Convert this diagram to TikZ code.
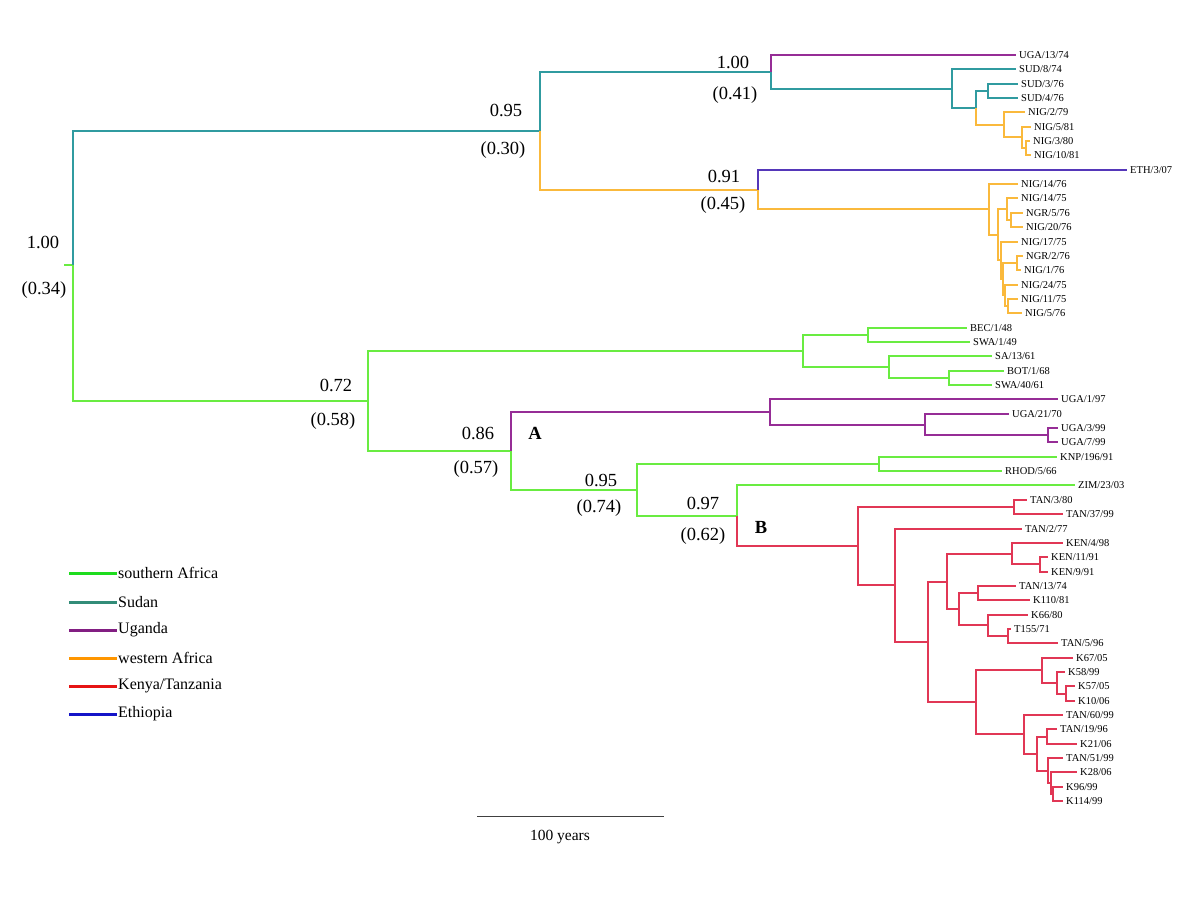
\documentclass[tikz,border=0pt]{standalone}
\usepackage{fontspec}
\setmainfont{Liberation Serif}
\definecolor{cteal}{RGB}{48,155,160}
\definecolor{cgreen}{RGB}{105,236,65}
\definecolor{cpurple}{RGB}{150,45,150}
\definecolor{corange}{RGB}{250,185,60}
\definecolor{cred}{RGB}{225,55,85}
\definecolor{cblue}{RGB}{85,55,185}
\definecolor{lgreen}{RGB}{30,220,30}
\definecolor{lteal}{RGB}{50,140,120}
\definecolor{lpurple}{RGB}{130,30,130}
\definecolor{lorange}{RGB}{255,150,0}
\definecolor{lred}{RGB}{230,20,20}
\definecolor{lblue}{RGB}{20,20,200}
\begin{document}
\begin{tikzpicture}[x=1pt,y=-1pt,
  br/.style={line width=1.5pt},
  tiplab/.style={anchor=west,inner xsep=3pt,inner ysep=0pt,font=\fontsize{10.5}{12}\selectfont},
  sup/.style={inner sep=0pt,font=\fontsize{18.5}{22}\selectfont},
  cladelab/.style={inner sep=0pt,font=\fontsize{18.5}{22}\selectfont\bfseries},
  legline/.style={line width=3pt},
  legtext/.style={anchor=west,inner xsep=1pt,font=\fontsize{16}{19}\selectfont}]
\useasboundingbox (0,0) rectangle (1200,901);

% ---------- internal nodes ----------
\coordinate (rs) at (64,265);
\coordinate (r) at (73,265);
\coordinate (u) at (540,131);
\coordinate (u1) at (771,72);
\coordinate (u11) at (952,89);
\coordinate (u111) at (976,108);
\coordinate (u1111) at (988,91);
\coordinate (u1112) at (1004,125);
\coordinate (u11121) at (1022,137);
\coordinate (u111211) at (1026,148);
\coordinate (u2) at (758,190);
\coordinate (u21) at (989,209);
\coordinate (u211) at (998,235);
\coordinate (u2111) at (1007,209);
\coordinate (u21111) at (1011,220);
\coordinate (u2112) at (1001,260);
\coordinate (u21121) at (1003,279);
\coordinate (u211211) at (1017,263);
\coordinate (u211212) at (1005,295);
\coordinate (u2112121) at (1008,306);
\coordinate (s) at (368,401);
\coordinate (s1) at (803,351);
\coordinate (s11) at (868,335);
\coordinate (s12) at (889,367);
\coordinate (s121) at (949,378);
\coordinate (a) at (511,451);
\coordinate (ug) at (770,412);
\coordinate (ug1) at (925,425);
\coordinate (ug11) at (1048,435);
\coordinate (g) at (637,490);
\coordinate (k) at (879,464);
\coordinate (b) at (737,516);
\coordinate (kt) at (858,546);
\coordinate (t1) at (1014,507);
\coordinate (t2) at (895,585);
\coordinate (t3) at (928,642);
\coordinate (t31) at (947,582);
\coordinate (t311) at (1012,554);
\coordinate (t3111) at (1040,564);
\coordinate (t312) at (959,609);
\coordinate (t3121) at (978,593);
\coordinate (t3122) at (988,625);
\coordinate (t31221) at (1008,636);
\coordinate (t32) at (976,702);
\coordinate (t321) at (1042,670);
\coordinate (t3211) at (1057,683);
\coordinate (t32111) at (1066,694);
\coordinate (t322) at (1024,734);
\coordinate (t3221) at (1037,754);
\coordinate (t32211) at (1047,737);
\coordinate (t32212) at (1048,771);
\coordinate (t322121) at (1051,783);
\coordinate (t3221211) at (1053,794);

% ---------- tips ----------
\node[tiplab] (UGAa) at (1016,55) {UGA/13/74};
\node[tiplab] (SUDa) at (1016,69) {SUD/8/74};
\node[tiplab] (SUDb) at (1018,84) {SUD/3/76};
\node[tiplab] (SUDc) at (1018,98) {SUD/4/76};
\node[tiplab] (NIGa) at (1025,112) {NIG/2/79};
\node[tiplab] (NIGb) at (1031,127) {NIG/5/81};
\node[tiplab] (NIGc) at (1030,141) {NIG/3/80};
\node[tiplab] (NIGd) at (1031,155) {NIG/10/81};
\node[tiplab] (ETH) at (1127,170) {ETH/3/07};
\node[tiplab] (NIGe) at (1018,184) {NIG/14/76};
\node[tiplab] (NIGf) at (1018,198) {NIG/14/75};
\node[tiplab] (NGRa) at (1023,213) {NGR/5/76};
\node[tiplab] (NIGg) at (1023,227) {NIG/20/76};
\node[tiplab] (NIGh) at (1018,242) {NIG/17/75};
\node[tiplab] (NGRb) at (1023,256) {NGR/2/76};
\node[tiplab] (NIGi) at (1021,270) {NIG/1/76};
\node[tiplab] (NIGj) at (1018,285) {NIG/24/75};
\node[tiplab] (NIGk) at (1018,299) {NIG/11/75};
\node[tiplab] (NIGl) at (1022,313) {NIG/5/76};
\node[tiplab] (BEC) at (967,328) {BEC/1/48};
\node[tiplab] (SWAa) at (970,342) {SWA/1/49};
\node[tiplab] (SA) at (992,356) {SA/13/61};
\node[tiplab] (BOT) at (1004,371) {BOT/1/68};
\node[tiplab] (SWAb) at (992,385) {SWA/40/61};
\node[tiplab] (UGAb) at (1058,399) {UGA/1/97};
\node[tiplab] (UGAc) at (1009,414) {UGA/21/70};
\node[tiplab] (UGAd) at (1058,428) {UGA/3/99};
\node[tiplab] (UGAe) at (1058,442) {UGA/7/99};
\node[tiplab] (KNP) at (1057,457) {KNP/196/91};
\node[tiplab] (RHOD) at (1002,471) {RHOD/5/66};
\node[tiplab] (ZIM) at (1075,485) {ZIM/23/03};
\node[tiplab] (TANa) at (1027,500) {TAN/3/80};
\node[tiplab] (TANb) at (1063,514) {TAN/37/99};
\node[tiplab] (TANc) at (1022,529) {TAN/2/77};
\node[tiplab] (KENa) at (1063,543) {KEN/4/98};
\node[tiplab] (KENb) at (1048,557) {KEN/11/91};
\node[tiplab] (KENc) at (1048,572) {KEN/9/91};
\node[tiplab] (TANd) at (1016,586) {TAN/13/74};
\node[tiplab] (Ka) at (1030,600) {K110/81};
\node[tiplab] (Kb) at (1028,615) {K66/80};
\node[tiplab] (Ta) at (1011,629) {T155/71};
\node[tiplab] (TANe) at (1058,643) {TAN/5/96};
\node[tiplab] (Kc) at (1073,658) {K67/05};
\node[tiplab] (Kd) at (1065,672) {K58/99};
\node[tiplab] (Ke) at (1075,686) {K57/05};
\node[tiplab] (Kf) at (1075,701) {K10/06};
\node[tiplab] (TANf) at (1063,715) {TAN/60/99};
\node[tiplab] (TANg) at (1057,729) {TAN/19/96};
\node[tiplab] (Kg) at (1077,744) {K21/06};
\node[tiplab] (TANh) at (1063,758) {TAN/51/99};
\node[tiplab] (Kh) at (1077,772) {K28/06};
\node[tiplab] (Ki) at (1063,787) {K96/99};
\node[tiplab] (Kj) at (1063,801) {K114/99};

% ---------- branches ----------
\draw[br,cgreen] (rs) -- (r);
\draw[br,cteal] (r) |- (u);
\draw[br,cteal] (u) |- (u1);
\draw[br,cpurple] (u1) |- (UGAa.west);
\draw[br,cteal] (u1) |- (u11);
\draw[br,cteal] (u11) |- (SUDa.west);
\draw[br,cteal] (u11) |- (u111);
\draw[br,cteal] (u111) |- (u1111);
\draw[br,cteal] (u1111) |- (SUDb.west);
\draw[br,cteal] (u1111) |- (SUDc.west);
\draw[br,corange] (u111) |- (u1112);
\draw[br,corange] (u1112) |- (NIGa.west);
\draw[br,corange] (u1112) |- (u11121);
\draw[br,corange] (u11121) |- (NIGb.west);
\draw[br,corange] (u11121) |- (u111211);
\draw[br,corange] (u111211) |- (NIGc.west);
\draw[br,corange] (u111211) |- (NIGd.west);
\draw[br,corange] (u) |- (u2);
\draw[br,cblue] (u2) |- (ETH.west);
\draw[br,corange] (u2) |- (u21);
\draw[br,corange] (u21) |- (NIGe.west);
\draw[br,corange] (u21) |- (u211);
\draw[br,corange] (u211) |- (u2111);
\draw[br,corange] (u2111) |- (NIGf.west);
\draw[br,corange] (u2111) |- (u21111);
\draw[br,corange] (u21111) |- (NGRa.west);
\draw[br,corange] (u21111) |- (NIGg.west);
\draw[br,corange] (u211) |- (u2112);
\draw[br,corange] (u2112) |- (NIGh.west);
\draw[br,corange] (u2112) |- (u21121);
\draw[br,corange] (u21121) |- (u211211);
\draw[br,corange] (u211211) |- (NGRb.west);
\draw[br,corange] (u211211) |- (NIGi.west);
\draw[br,corange] (u21121) |- (u211212);
\draw[br,corange] (u211212) |- (NIGj.west);
\draw[br,corange] (u211212) |- (u2112121);
\draw[br,corange] (u2112121) |- (NIGk.west);
\draw[br,corange] (u2112121) |- (NIGl.west);

\draw[br,cgreen] (r) |- (s);
\draw[br,cgreen] (s) |- (s1);
\draw[br,cgreen] (s1) |- (s11);
\draw[br,cgreen] (s11) |- (BEC.west);
\draw[br,cgreen] (s11) |- (SWAa.west);
\draw[br,cgreen] (s1) |- (s12);
\draw[br,cgreen] (s12) |- (SA.west);
\draw[br,cgreen] (s12) |- (s121);
\draw[br,cgreen] (s121) |- (BOT.west);
\draw[br,cgreen] (s121) |- (SWAb.west);
\draw[br,cgreen] (s) |- (a);
\draw[br,cpurple] (a) |- (ug);
\draw[br,cpurple] (ug) |- (UGAb.west);
\draw[br,cpurple] (ug) |- (ug1);
\draw[br,cpurple] (ug1) |- (UGAc.west);
\draw[br,cpurple] (ug1) |- (ug11);
\draw[br,cpurple] (ug11) |- (UGAd.west);
\draw[br,cpurple] (ug11) |- (UGAe.west);
\draw[br,cgreen] (a) |- (g);
\draw[br,cgreen] (g) |- (k);
\draw[br,cgreen] (k) |- (KNP.west);
\draw[br,cgreen] (k) |- (RHOD.west);
\draw[br,cgreen] (g) |- (b);
\draw[br,cgreen] (b) |- (ZIM.west);
\draw[br,cred] (b) |- (kt);
\draw[br,cred] (kt) |- (t1);
\draw[br,cred] (t1) |- (TANa.west);
\draw[br,cred] (t1) |- (TANb.west);
\draw[br,cred] (kt) |- (t2);
\draw[br,cred] (t2) |- (TANc.west);
\draw[br,cred] (t2) |- (t3);
\draw[br,cred] (t3) |- (t31);
\draw[br,cred] (t31) |- (t311);
\draw[br,cred] (t311) |- (KENa.west);
\draw[br,cred] (t311) |- (t3111);
\draw[br,cred] (t3111) |- (KENb.west);
\draw[br,cred] (t3111) |- (KENc.west);
\draw[br,cred] (t31) |- (t312);
\draw[br,cred] (t312) |- (t3121);
\draw[br,cred] (t3121) |- (TANd.west);
\draw[br,cred] (t3121) |- (Ka.west);
\draw[br,cred] (t312) |- (t3122);
\draw[br,cred] (t3122) |- (Kb.west);
\draw[br,cred] (t3122) |- (t31221);
\draw[br,cred] (t31221) |- (Ta.west);
\draw[br,cred] (t31221) |- (TANe.west);
\draw[br,cred] (t3) |- (t32);
\draw[br,cred] (t32) |- (t321);
\draw[br,cred] (t321) |- (Kc.west);
\draw[br,cred] (t321) |- (t3211);
\draw[br,cred] (t3211) |- (Kd.west);
\draw[br,cred] (t3211) |- (t32111);
\draw[br,cred] (t32111) |- (Ke.west);
\draw[br,cred] (t32111) |- (Kf.west);
\draw[br,cred] (t32) |- (t322);
\draw[br,cred] (t322) |- (TANf.west);
\draw[br,cred] (t322) |- (t3221);
\draw[br,cred] (t3221) |- (t32211);
\draw[br,cred] (t32211) |- (TANg.west);
\draw[br,cred] (t32211) |- (Kg.west);
\draw[br,cred] (t3221) |- (t32212);
\draw[br,cred] (t32212) |- (TANh.west);
\draw[br,cred] (t32212) |- (t322121);
\draw[br,cred] (t322121) |- (Kh.west);
\draw[br,cred] (t322121) |- (t3221211);
\draw[br,cred] (t3221211) |- (Ki.west);
\draw[br,cred] (t3221211) |- (Kj.west);

% ---------- support values ----------
\node[sup] (p1) at (43,242) {1.00};
\node[sup] (q1) at (44,290) {(0.34)};
\node[sup] (p2) at (506,110) {0.95};
\node[sup] (q2) at (503,150) {(0.30)};
\node[sup] (p3) at (733,62) {1.00};
\node[sup] (q3) at (735,95) {(0.41)};
\node[sup] (p4) at (724,176) {0.91};
\node[sup] (q4) at (723,205) {(0.45)};
\node[sup] (p5) at (336,385) {0.72};
\node[sup] (q5) at (333,421) {(0.58)};
\node[sup] (p6) at (478,433) {0.86};
\node[sup] (q6) at (476,469) {(0.57)};
\node[sup] (p7) at (601,480) {0.95};
\node[sup] (q7) at (599,508) {(0.74)};
\node[sup] (p8) at (703,503) {0.97};
\node[sup] (q8) at (703,536) {(0.62)};
\node[cladelab] (cA) at (535,433) {A};
\node[cladelab] (cB) at (761,527) {B};

% ---------- legend ----------
\coordinate (la1) at (69,573); \coordinate (lb1) at (117,573);
\coordinate (la2) at (69,602); \coordinate (lb2) at (117,602);
\coordinate (la3) at (69,630); \coordinate (lb3) at (117,630);
\coordinate (la4) at (69,658); \coordinate (lb4) at (117,658);
\coordinate (la5) at (69,686); \coordinate (lb5) at (117,686);
\coordinate (la6) at (69,714); \coordinate (lb6) at (117,714);
\draw[legline,lgreen] (la1) -- (lb1);
\draw[legline,lteal] (la2) -- (lb2);
\draw[legline,lpurple] (la3) -- (lb3);
\draw[legline,lorange] (la4) -- (lb4);
\draw[legline,lred] (la5) -- (lb5);
\draw[legline,lblue] (la6) -- (lb6);
\node[legtext] (lt1) at (lb1) {southern Africa};
\node[legtext] (lt2) at (lb2) {Sudan};
\node[legtext] (lt3) at (lb3) {Uganda};
\node[legtext] (lt4) at (lb4) {western Africa};
\node[legtext] (lt5) at (lb5) {Kenya/Tanzania};
\node[legtext] (lt6) at (lb6) {Ethiopia};

% ---------- scale bar ----------
\coordinate (sb1) at (477,816);
\coordinate (sb2) at (664,816);
\draw[line width=1pt,black!75] (sb1) -- (sb2);
\node[inner sep=0pt,font=\fontsize{15.5}{18}\selectfont] (sbl) at (560,837) {100 years};
\end{tikzpicture}
\end{document}
